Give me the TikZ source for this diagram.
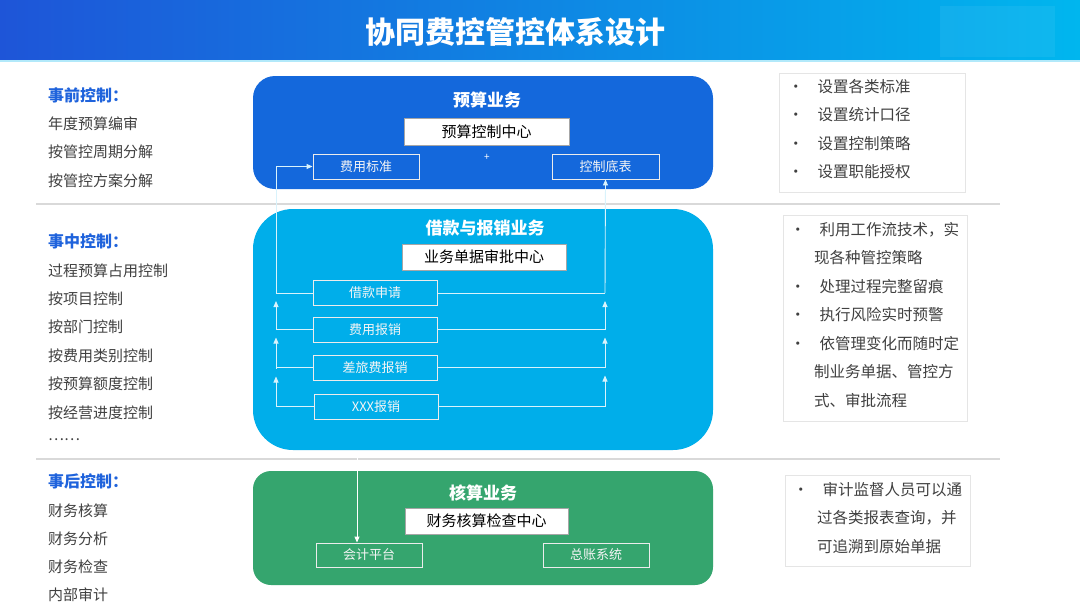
\documentclass[tikz,border=0pt]{standalone}
\usepackage{fontspec}
\setmainfont{Noto Sans CJK SC}
\usetikzlibrary{arrows.meta}
\definecolor{tA}{HTML}{1E55D8}
\definecolor{tB}{HTML}{00B6EE}
\definecolor{bA}{HTML}{1468DC}
\definecolor{bB}{HTML}{00AEEA}
\definecolor{bC}{HTML}{35A56E}
\definecolor{hd}{HTML}{1F63DC}
\definecolor{tx}{HTML}{404040}
\definecolor{sep}{HTML}{D9D9D9}
\tikzset{
  x=1pt,y=-1pt,
  panel/.style={rounded corners=#1},
  ctr/.style={draw=gray!70,fill=white,text=black,inner sep=0,font=\fontsize{15}{15}\selectfont},
  sub/.style={draw=white!85!gray,line width=0.9pt,inner sep=0,text=white!92!gray,font=\fontsize{13}{13}\selectfont},
  ptitle/.style={text=white,font=\fontsize{17}{17}\selectfont\bfseries},
  lhead/.style={anchor=west,text=hd,font=\fontsize{16}{16}\selectfont\bfseries,inner sep=0},
  litem/.style={anchor=west,text=tx,font=\fontsize{15}{15}\selectfont,inner sep=0},
  rbox/.style={draw=gray!20,line width=0.6pt},
  rtxt/.style={anchor=north west,text=tx,font=\fontsize{15.5}{28.5}\selectfont,inner sep=0,align=left},
  wire/.style={draw=white!85!bB,line width=0.9pt},
  tip/.style={-{Triangle[width=5pt,length=6pt]}}
}
\begin{document}
\begin{tikzpicture}
\useasboundingbox (0,0) rectangle (1080,608);
\fill[white] (0,0) rectangle (1080,608);
\shade[left color=tA,right color=tB] (0,0) rectangle (1080,60);
\fill[white,opacity=0.06] (940,6) rectangle (1055,57);
\fill[white!70!tB] (0,60) rectangle (1080,62);
\node[text=white,font=\fontsize{30}{30}\selectfont\bfseries] (title) at (515,32) {协同费控管控体系设计};
% separators
\draw[sep,line width=1.5pt] (36,204) -- (1000,204);
\draw[sep,line width=1.5pt] (36,459) -- (1000,459);
% panels
\fill[bA,panel=22] (253,76) rectangle (713,189);
\fill[bB,panel=40] (253,209) rectangle (713,450);
\fill[bC,panel=18] (253,471) rectangle (713,585);
% panel 1
\node[ptitle] (t1) at (487,100) {预算业务};
\node[ctr,minimum width=165,minimum height=27] (c1) at (486.5,131.5) {预算控制中心};
\node[sub,minimum width=106,minimum height=25] (fybz) at (366,166.5) {费用标准};
\node[sub,minimum width=107,minimum height=25] (kzdb) at (605.5,166.5) {控制底表};
\node[text=white,font=\fontsize{10}{10}\selectfont,inner sep=0] (plus) at (487,157) {+};
% panel 2
\node[ptitle] (t2) at (485,228) {借款与报销业务};
\node[ctr,minimum width=164,minimum height=26] (c2) at (484,257) {业务单据审批中心};
\node[sub,minimum width=124,minimum height=25] (jksq) at (375,293) {借款申请};
\node[sub,minimum width=124,minimum height=25] (fybx) at (375,329.5) {费用报销};
\node[sub,minimum width=124,minimum height=25] (clbx) at (375,367.5) {差旅费报销};
\node[sub,minimum width=124,minimum height=25] (xxbx) at (376,406.5) {XXX报销};
% left bus
\coordinate (L0) at (276,406.5);
\coordinate (Ltop) at (276,166.5);
\draw[wire] (xxbx.west) -- (L0);
\draw[wire,tip] (L0) -- (276,368.5+8);
\draw[wire] (276,368.5) |- (clbx.west);
\draw[wire,tip] (276,367.5) -- (276,329.5+8);
\draw[wire] (276,329.5) |- (fybx.west);
\draw[wire,tip] (276,329.5) -- (276,293+8);
\draw[wire] (276,293) |- (jksq.west);
\draw[wire,tip] (276,293) -- (Ltop) -- (fybz.west);
% right bus
\coordinate (R0) at (605,406.5);
\draw[wire] (xxbx.east) -- (R0);
\draw[wire,tip] (R0) -- (605,367.5+8);
\draw[wire] (clbx.east) -- (605,367.5);
\draw[wire,tip] (605,367.5) -- (605,329.5+8);
\draw[wire] (fybx.east) -- (605,329.5);
\draw[wire,tip] (605,329.5) -- (605,293+8);
\draw[wire] (jksq.east) -- (605,293);
\draw[wire,tip] (605,293) -- (kzdb.south);
% panel 3
\node[ptitle] (t3) at (483,493) {核算业务};
\node[ctr,minimum width=163,minimum height=26] (c3) at (486.5,521) {财务核算检查中心};
\node[sub,minimum width=106,minimum height=24] (kjpt) at (369,555) {会计平台};
\node[sub,minimum width=106,minimum height=24] (zzxt) at (596,555) {总账系统};
\coordinate (D0) at (357,452);
\draw[wire,tip,draw=white] (D0) -- (D0 |- kjpt.north);
% left text
\node[lhead] (h1) at (48,95) {事前控制：};
\node[litem] (a1) at (48,124) {年度预算编审};
\node[litem] (a2) at (48,152) {按管控周期分解};
\node[litem] (a3) at (48,180.5) {按管控方案分解};
\node[lhead] (h2) at (48,241.5) {事中控制：};
\node[litem] (b1) at (48,270.5) {过程预算占用控制};
\node[litem] (b2) at (48,298.5) {按项目控制};
\node[litem] (b3) at (48,327) {按部门控制};
\node[litem] (b4) at (48,355.5) {按费用类别控制};
\node[litem] (b5) at (48,384) {按预算额度控制};
\node[litem] (b6) at (48,412.5) {按经营进度控制};
\node[litem] (b7) at (48,440) {……};
\node[lhead] (h3) at (48,481.5) {事后控制：};
\node[litem] (c1t) at (48,510.5) {财务核算};
\node[litem] (c2t) at (48,538.5) {财务分析};
\node[litem] (c3t) at (48,567) {财务检查};
\node[litem] (c4t) at (48,595) {内部审计};
% right boxes
\draw[rbox] (779,73) rectangle (965,192);
\node[rtxt] (r1) at (788,79) {•\hspace{14pt}设置各类标准\\•\hspace{14pt}设置统计口径\\•\hspace{14pt}设置控制策略\\•\hspace{14pt}设置职能授权};
\draw[rbox] (783,215) rectangle (967,421);
\node[rtxt] (r2) at (790,222) {•\hspace{14pt}利用工作流技术，实\\\hspace{24pt}现各种管控策略\\•\hspace{14pt}处理过程完整留痕\\•\hspace{14pt}执行风险实时预警\\•\hspace{14pt}依管理变化而随时定\\\hspace{24pt}制业务单据、管控方\\\hspace{24pt}式、审批流程};
\draw[rbox] (785,475) rectangle (970,566);
\node[rtxt] (r3) at (793,482) {•\hspace{14pt}审计监督人员可以通\\\hspace{24pt}过各类报表查询，并\\\hspace{24pt}可追溯到原始单据};
\end{tikzpicture}
\end{document}
